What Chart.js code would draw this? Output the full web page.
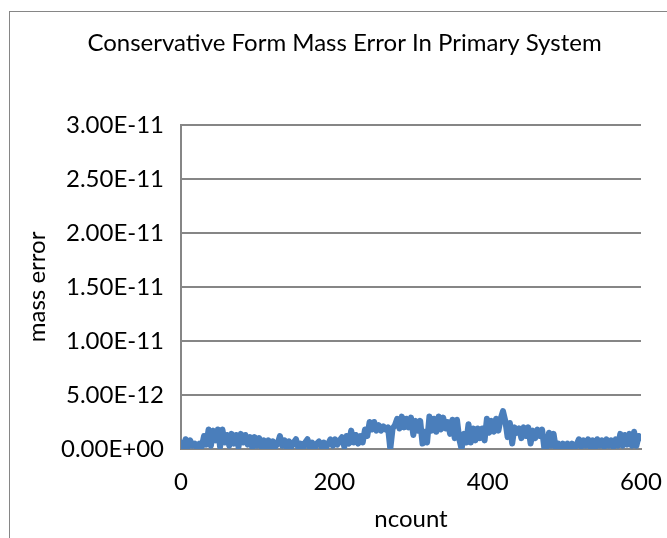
<!DOCTYPE html>
<html>
<head>
<meta charset="utf-8">
<script src="https://cdn.jsdelivr.net/npm/chart.js@4"></script>
<style>
  html, body { margin: 0; padding: 0; background: #fff; overflow: hidden; }
  #frame { position: absolute; left: 9px; top: 11px; width: 700px; height: 600px; border: 1px solid #868686; }
  #wrap { position: absolute; left: 0; top: 0; width: 667px; height: 538px; }
</style>
</head>
<body>
<div id="frame"></div>
<div id="wrap"><canvas id="chart"></canvas></div>
<script>
// ===================== DATA =====================
// mass error per ncount sample, in units of 1E-12
const STEP = 3;
const massError = [
  0.6, 0.1, 0.9, 0.2, 0.8, 0.3, 0.5, 0.1, 0.5, 0.2,
  1.2, 0.4, 1.8, 0.3, 1.7, 0.8, 1.8, 0.2, 1.8, 0.6,
  1.3, 0.3, 1.4, 0.5, 1.3, 0.2, 1.4, 0.6, 1.3, 0.4,
  1.1, 0.1, 1.1, 0.3, 1.0, 0.2, 0.8, 0.1, 0.8, 0.0,
  0.7, 0.2, 0.5, 1.2, 0.3, 0.8, 0.1, 0.7, 0.2, 0.6,
  0.9, 0.1, 0.5, 0.0, 0.6, 0.9, 0.1, 0.6, 0.0, 0.5,
  0.7, 0.2, 0.6, 0.1, 0.5, 0.9, 0.3, 0.9, 0.4, 0.8,
  1.1, 0.2, 1.2, 0.5, 1.7, 0.6, 1.3, 0.5, 1.2, 0.6,
  1.8, 1.2, 2.5, 1.8, 2.5, 1.7, 2.2, 1.7, 2.1, 1.8,
  2.0, 0.0, 1.9, 2.2, 2.8, 1.9, 3.0, 2.0, 2.8, 2.0,
  2.9, 1.3, 2.6, 1.7, 2.6, 0.5, 1.6, 0.6, 3.0, 1.7,
  2.8, 1.6, 3.0, 1.8, 2.9, 1.9, 2.5, 1.4, 2.7, 1.0,
  2.7, 0.9, 0.0, 1.4, 0.6, 2.3, 0.6, 1.9, 0.8, 1.9,
  1.0, 1.9, 0.8, 2.8, 1.5, 2.6, 1.6, 2.8, 1.7, 2.8,
  3.5, 2.6, 1.1, 2.4, 0.5, 2.0, 1.5, 1.9, 1.0, 2.0,
  1.2, 2.0, 0.5, 1.7, 1.0, 1.8, 1.2, 1.8, 0.0, 0.2,
  1.5, 0.3, 1.4, 0.0, 0.5, 0.1, 0.5, 0.0, 0.5, 0.1,
  0.5, 0.0, 0.4, 0.9, 0.2, 0.8, 0.3, 0.9, 0.2, 0.8,
  0.1, 0.9, 0.3, 0.8, 0.2, 0.9, 0.3, 0.8, 0.2, 0.9,
  0.3, 1.4, 0.3, 1.3, 0.4, 1.4, 0.3, 1.6, 0.3, 1.2,
  1.0
];
const ncount = massError.map((v, i) => i * STEP);

const xTicks = [0, 200, 400, 600];
const yTickLabels = ['0.00E+00', '5.00E-12', '1.00E-11', '1.50E-11', '2.00E-11', '2.50E-11', '3.00E-11'];

const chartTitle = 'Conservative Form Mass Error In Primary System';
const xTitle = 'ncount';
const yTitle = 'mass error';

// ===================== CHART =====================
const FONT = 'Lato, "Open Sans", sans-serif';
const GRID = '#868686';

new Chart(document.getElementById('chart'), {
  type: 'line',
  data: {
    datasets: [{
      data: ncount.map((n, i) => ({ x: n, y: massError[i] })),
      borderColor: '#4a7ebb',
      borderWidth: 6,
      pointRadius: 0,
      tension: 0,
      borderJoinStyle: 'round',
      borderCapStyle: 'round'
    }]
  },
  options: {
    responsive: true,
    maintainAspectRatio: false,
    animation: false,
    // left padding also shifts the centred title to the right, like the reference
    layout: { padding: { left: 48, right: 26, top: 0, bottom: 0 } },
    plugins: {
      legend: { display: false },
      tooltip: { enabled: false },
      title: {
        display: true,
        text: chartTitle,
        color: '#000',
        font: { family: FONT, size: 24, weight: 'normal' },
        padding: { top: 29, bottom: 67 }
      }
    },
    scales: {
      x: {
        type: 'linear',
        min: 0,
        max: 600,
        afterBuildTicks: axis => { axis.ticks = xTicks.map(v => ({ value: v })); },
        grid: { display: false, drawTicks: false },
        border: { color: GRID, width: 2 },
        ticks: { color: '#000', padding: 19, font: { family: FONT, size: 24 } },
        title: {
          display: true, text: xTitle, color: '#000',
          font: { family: FONT, size: 24 }, padding: { top: 0, bottom: 4 }
        },
        afterFit: axis => {
          axis.height = 89;
          axis.paddingLeft = 0;
          axis.paddingRight = 0;
        }
      },
      y: {
        min: 0,
        max: 30,
        ticks: {
          stepSize: 5,
          color: '#000',
          padding: 17,
          font: { family: FONT, size: 24 },
          callback: (v, i) => yTickLabels[i]
        },
        grid: { color: GRID, lineWidth: 2, drawTicks: false },
        border: { color: GRID, width: 2 },
        title: {
          display: true, text: yTitle, color: '#000',
          font: { family: FONT, size: 24 }, padding: { top: -25, bottom: 0 }
        },
        afterFit: axis => { axis.width = 133; }
      }
    }
  }
});
</script>
</body>
</html>
